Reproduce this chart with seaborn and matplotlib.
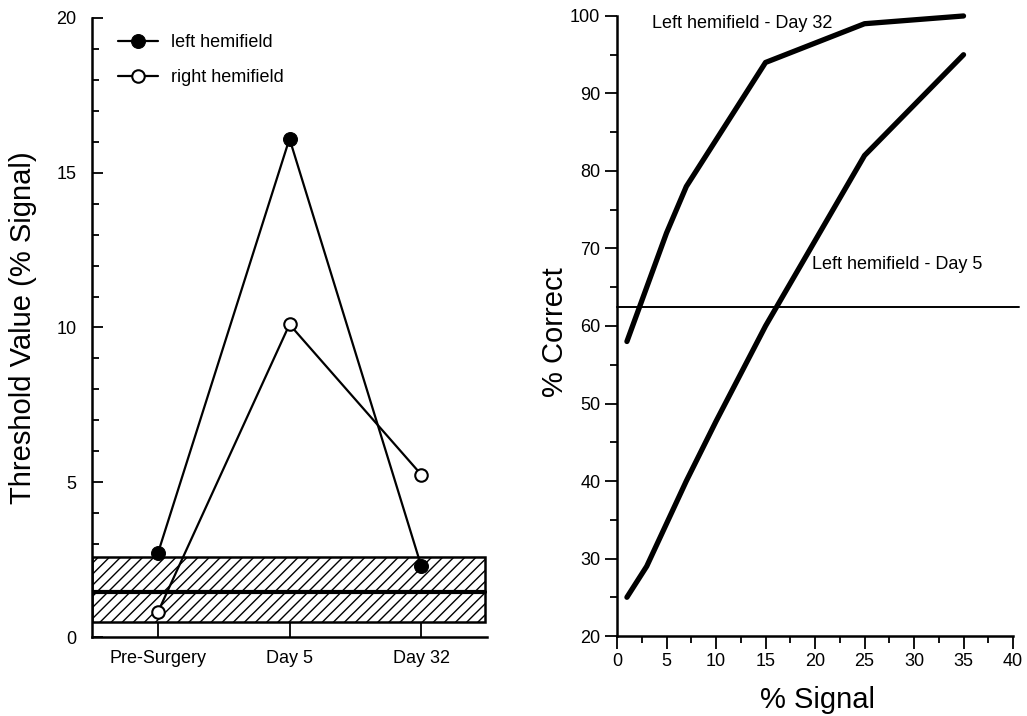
import numpy as np
import pandas as pd
import seaborn as sns
import matplotlib.pyplot as plt
from matplotlib.ticker import MultipleLocator

sns.set_style("ticks")
plt.rcParams['font.family'] = ['Liberation Sans', 'DejaVu Sans']
plt.rcParams['hatch.linewidth'] = 1.0
for k in ['text.color', 'axes.labelcolor', 'xtick.color', 'ytick.color', 'axes.edgecolor']:
    plt.rcParams[k] = 'black'

# left panel data
sessions = ["Pre-Surgery", "Day 5", "Day 32"]
left_thr = [2.7, 16.1, 2.3]
right_thr = [0.8, 10.1, 5.25]
norm_low, norm_mean, norm_high = 0.5, 1.45, 2.6

# right panel data
signal = [1, 3, 5, 7, 10, 15, 25, 35]
day32_pc = [58, 65, 72, 78, 84, 94, 99, 100]
day5_pc = [25, 29, 34.5, 40, 47.7, 60, 82, 95]
chance = 62.5

thr = pd.DataFrame({"pos": np.arange(len(sessions)), "left": left_thr, "right": right_thr})
psy = pd.DataFrame({"signal": signal, "day32": day32_pc, "day5": day5_pc})

fig = plt.figure(figsize=(10.27, 7.16), dpi=100)
ax1 = fig.add_axes([0.0896, 0.1103, 0.3846, 0.8646])
ax2 = fig.add_axes([0.6008, 0.1117, 0.3856, 0.866])

# ---- left: thresholds
ax1.axhspan(norm_low, norm_high, xmin=0, xmax=0.995, facecolor="white", edgecolor="black",
            hatch="///", linewidth=1.8, zorder=1)
ax1.axhline(norm_mean, xmax=0.995, color="black", linewidth=3, zorder=2)
sns.lineplot(data=thr, x="pos", y="left", ax=ax1, color="black", linewidth=1.6,
             marker="o", markersize=10, markerfacecolor="black", markeredgecolor="black",
             label="left hemifield", zorder=3, clip_on=False)
sns.lineplot(data=thr, x="pos", y="right", ax=ax1, color="black", linewidth=1.6,
             marker="o", markersize=9, markerfacecolor="white", markeredgecolor="black",
             markeredgewidth=1.5, label="right hemifield", zorder=3, clip_on=False)
ax1.set_xlim(-0.5, 2.5)
ax1.set_ylim(0, 20)
ax1.set_xticks(thr["pos"])
ax1.set_xticklabels(sessions)
ax1.yaxis.set_major_locator(MultipleLocator(5))
ax1.yaxis.set_minor_locator(MultipleLocator(1))
ax1.tick_params(axis="both", which="both", direction="in", labelsize=13, color="black", width=1.3)
ax1.tick_params(axis="y", which="major", length=8, pad=11)
ax1.tick_params(axis="y", which="minor", length=5)
ax1.tick_params(axis="x", which="major", length=10, pad=9)
ax1.set_xlabel("")
ax1.set_ylabel("Threshold Value (% Signal)", fontsize=21)
ax1.yaxis.set_label_coords(-0.139, 0.5)
for s in ["top", "right"]:
    ax1.spines[s].set_visible(False)
for s in ["left", "bottom"]:
    ax1.spines[s].set_linewidth(1.8)
ax1.legend(loc="upper left", bbox_to_anchor=(0.025, 1.0), frameon=False, fontsize=13,
           handlelength=2.2, handletextpad=0.7, labelspacing=1.0)

# ---- right: psychometric functions
sns.lineplot(data=psy, x="signal", y="day32", ax=ax2, color="black", linewidth=3.8, clip_on=False)
sns.lineplot(data=psy, x="signal", y="day5", ax=ax2, color="black", linewidth=3.8, clip_on=False)
ax2.plot([0, 40.6], [chance, chance], color="black", linewidth=1.4, clip_on=False)
ax2.text(3.55, 99.0, "Left hemifield - Day 32", fontsize=13, va="center", ha="left")
ax2.text(19.7, 67.9, "Left hemifield - Day 5", fontsize=13, va="center", ha="left")
ax2.set_xlim(0, 40)
ax2.set_ylim(20, 100)
ax2.xaxis.set_major_locator(MultipleLocator(5))
ax2.xaxis.set_minor_locator(MultipleLocator(2.5))
ax2.yaxis.set_major_locator(MultipleLocator(10))
ax2.yaxis.set_minor_locator(MultipleLocator(5))
ax2.tick_params(axis="both", which="both", direction="out", labelsize=13, color="black", width=1.3)
ax2.tick_params(axis="both", which="major", length=9, pad=3)
ax2.tick_params(axis="both", which="minor", length=5)
ax2.set_xlabel("% Signal", fontsize=21)
ax2.set_ylabel("% Correct", fontsize=21)
ax2.xaxis.set_label_coords(0.505, -0.081)
ax2.yaxis.set_label_coords(-0.121, 0.49)
for s in ["top", "right"]:
    ax2.spines[s].set_visible(False)
for s in ["left", "bottom"]:
    ax2.spines[s].set_linewidth(1.8)

fig.savefig("out.png", dpi=100)
